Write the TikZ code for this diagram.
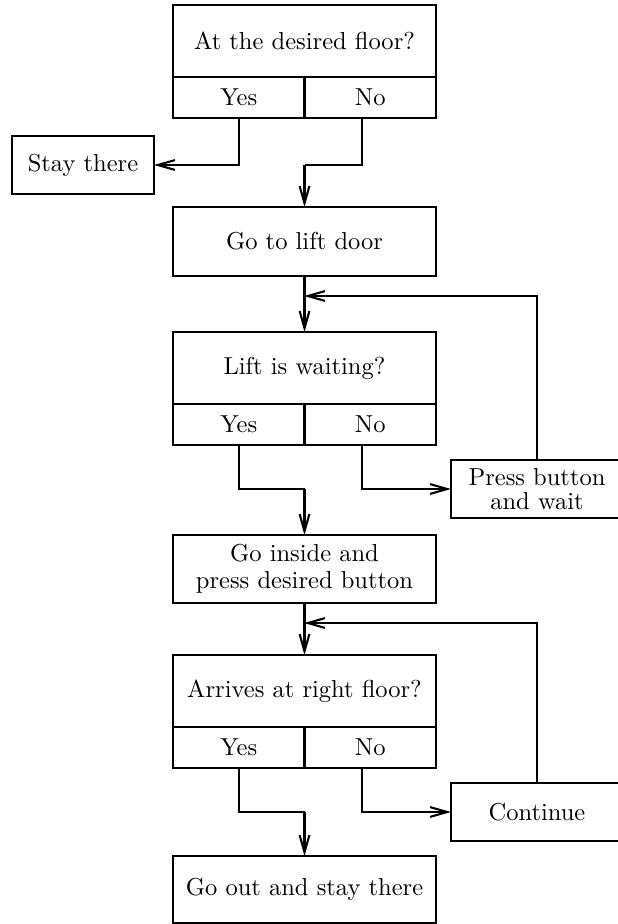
\documentclass[tikz,border=0pt]{standalone}
\usetikzlibrary{arrows.meta}
\begin{document}
\begin{tikzpicture}[x=0.408pt, y=-0.408pt,
  every node/.style={inner sep=0pt, outer sep=0pt},
  box/.style={draw, line width=0.85pt, rectangle, align=center, anchor=north west},
  qbox/.style={box, minimum width=263*0.408pt, minimum height=72*0.408pt},
  cell/.style={box, minimum width=131.5*0.408pt, minimum height=41*0.408pt},
  sidebox/.style={box, minimum width=172*0.408pt, minimum height=58*0.408pt},
  flow/.style={draw, line width=0.85pt, -{Straight Barb[length=7pt,width=4pt,line width=0.85pt]}},
  plain/.style={draw, line width=0.85pt},
  noleg/.style={xshift=-8*0.408pt}]
\useasboundingbox (0,0) rectangle (618,924);
\clip (0,0) rectangle (618,924);

% first decision
\node[qbox] (q1) at (173,5) {At the desired floor?};
\node[cell] (q1yes) at (173,77) {Yes};
\node[cell] (q1no) at (304.5,77) {No};
\node[box, minimum width=142*0.408pt, minimum height=58*0.408pt] (stay) at (12,136) {Stay there};

\node[box, minimum width=263*0.408pt, minimum height=69*0.408pt] (golift) at (173,207) {Go to lift door};

% second decision
\node[qbox] (q2) at (173,332) {Lift is waiting?};
\node[cell] (q2yes) at (173,404) {Yes};
\node[cell] (q2no) at (304.5,404) {No};
\node[sidebox] (press) at (451,460) {Press button\\[-2pt]and wait};

\node[box, minimum width=263*0.408pt, minimum height=68*0.408pt] (inside) at (173,535) {Go inside and\\[-1pt]press desired button};

% third decision
\node[qbox] (q3) at (173,655) {Arrives at right floor?};
\node[cell] (q3yes) at (173,727) {Yes};
\node[cell] (q3no) at (304.5,727) {No};
\node[sidebox] (cont) at (451,783) {Continue};

\node[box, minimum width=263*0.408pt, minimum height=67*0.408pt] (final) at (173,856) {Go out and stay there};

% bend points on the main column
\coordinate (b1) at (golift.north |- stay.east);
\coordinate (b2) at (304,296);
\coordinate (b3) at (inside.north |- press.west);
\coordinate (b4) at (304,623);
\coordinate (b5) at (final.north |- cont.west);

% the "No" legs leave a little left of the cell centre
\coordinate[noleg] (n1) at (q1no.south);
\coordinate[noleg] (n2) at (q2no.south);
\coordinate[noleg] (n3) at (q3no.south);

% connectors
\path[flow] (q1yes.south) |- (stay.east);
\path[plain] (n1) |- (b1);
\path[flow] (b1) -- (golift.north);

\path[flow] (golift.south) -- (q2.north);
\path[flow] (press.north) |- (b2);

\path[plain] (q2yes.south) |- (b3);
\path[flow] (b3) -- (inside.north);
\path[flow] (n2) |- (press.west);

\path[flow] (inside.south) -- (q3.north);
\path[flow] (cont.north) |- (b4);

\path[plain] (q3yes.south) |- (b5);
\path[flow] (b5) -- (final.north);
\path[flow] (n3) |- (cont.west);
\end{tikzpicture}
\end{document}
